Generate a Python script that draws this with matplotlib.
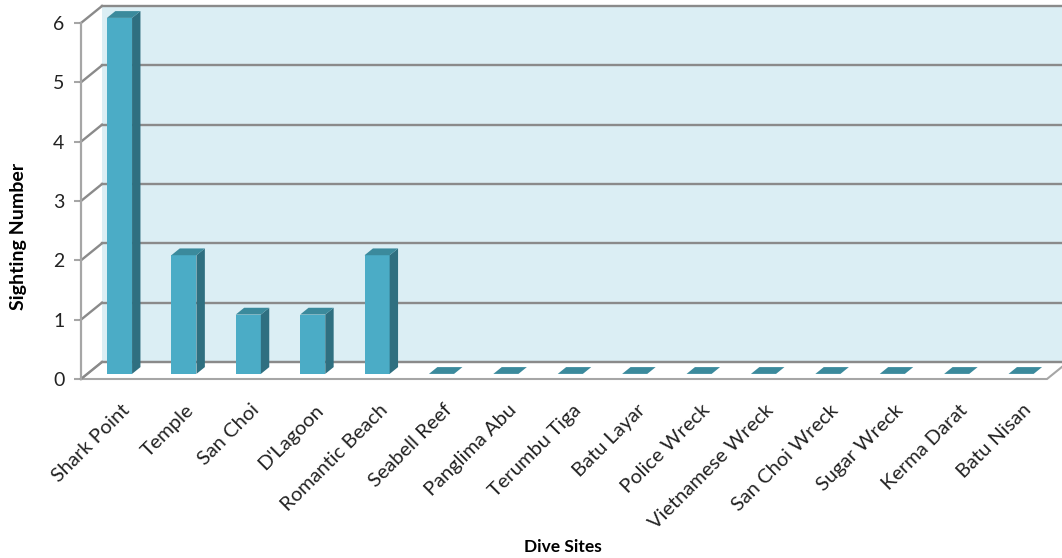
import matplotlib
matplotlib.use("Agg")
import matplotlib.pyplot as plt
from matplotlib.patches import Polygon
from matplotlib.transforms import ScaledTranslation

# Data
sites = ['Shark Point', 'Temple', 'San Choi', "D'Lagoon", 'Romantic Beach',
         'Seabell Reef', 'Panglima Abu', 'Terumbu Tiga', 'Batu Layar',
         'Police Wreck', 'Vietnamese Wreck', 'San Choi Wreck', 'Sugar Wreck',
         'Kerma Darat', 'Batu Nisan']
sightings = [6, 2, 1, 1, 2, 0, 0, 0, 0, 0, 0, 0, 0, 0, 0]
y_ticks = [0, 1, 2, 3, 4, 5, 6]

# Style
WALL = '#dbeef4'
GRID = '#8a8a8a'
EDGE = '#a6a6a6'
FRONT = '#4bacc6'
SIDE = '#2f6f80'
TOP = '#3b8a9c'
FONT = 'Lato'

W, H, DPI = 1062, 558, 100
fig = plt.figure(figsize=(W / DPI, H / DPI), dpi=DPI)
# front plane of the 3D box, in pixels
left, right, y0, y6 = 81, 1047, 379, 23
ax = fig.add_axes([left / W, 1 - y0 / H, (right - left) / W, (y0 - y6) / H])
ax.set_xlim(-0.5, len(sites) - 0.5)
ax.set_ylim(0, 6)
ax.patch.set_visible(False)
for s in ax.spines.values():
    s.set_visible(False)

# depth of the box (pixels) converted to data units
px_x = (right - left) / len(sites)
px_y = (y0 - y6) / 6
DX, DY = 21 / px_x, 17 / px_y
x0, x1 = -0.5, len(sites) - 0.5 + 1.0


def poly(pts, **kw):
    p = Polygon(pts, closed=True, clip_on=False, **kw)
    ax.add_patch(p)
    return p


# back wall, left wall, floor
poly([(x0 + DX, DY), (x1 + DX, DY), (x1 + DX, 6 + DY), (x0 + DX, 6 + DY)],
     facecolor=WALL, edgecolor='none', zorder=1)
poly([(x0, 0), (x0 + DX, DY), (x0 + DX, 6 + DY), (x0, 6)],
     facecolor='white', edgecolor='none', zorder=1)
xr = len(sites) - 0.5
poly([(x0, 0), (xr, 0), (xr + DX, DY), (x0 + DX, DY)],
     facecolor='white', edgecolor=EDGE, linewidth=1.5, zorder=2)

# gridlines on back wall and left wall
for v in y_ticks:
    ax.plot([x0 + DX, x1 + DX], [v + DY, v + DY], color=GRID, lw=1.7,
            clip_on=False, zorder=2)
    ax.plot([x0, x0 + DX], [v, v + DY], color=GRID, lw=1.7,
            clip_on=False, zorder=2)
ax.plot([x0, x0], [0, 6], color=EDGE, lw=1.6, clip_on=False, zorder=3)

# bars with depth from 0.3 to 0.7 of the box
f0, f1 = 0.3, 0.7
bw = 0.39
for i, v in enumerate(sightings):
    ox, oy = f0 * DX, f0 * DY
    bx, by = f1 * DX, f1 * DY
    xa, xb = i - bw / 2 + ox, i + bw / 2 + ox
    if v > 0:
        poly([(xa, oy), (xb, oy), (xb, v + oy), (xa, v + oy)],
             facecolor=FRONT, edgecolor='none', zorder=4)
        poly([(xb, oy), (xb - ox + bx, by), (xb - ox + bx, v + by), (xb, v + oy)],
             facecolor=SIDE, edgecolor='none', zorder=4)
    poly([(xa, v + oy), (xb, v + oy), (xb - ox + bx, v + by), (xa - ox + bx, v + by)],
         facecolor=TOP, edgecolor='none', zorder=4)

# ticks and labels
ax.set_yticks(y_ticks)
ax.set_yticklabels([str(t) for t in y_ticks], fontsize=14, family=FONT,
                   color='#222222')
ax.tick_params(axis='y', length=5, width=1.5, color=EDGE, pad=7)
ax.set_xticks(range(len(sites)))
ax.set_xticklabels(sites, rotation=45, ha='right', va='top',
                   rotation_mode='anchor', fontsize=14.5, family=FONT,
                   color='#222222')
ax.tick_params(axis='x', length=0, pad=16)
for lab in ax.get_xticklabels():
    lab.set_transform(lab.get_transform()
                      + ScaledTranslation(0.08, 0, fig.dpi_scale_trans))

fig.text(19 / W, 1 - 236 / H, 'Sighting Number', rotation=90, ha='center',
         va='center', fontsize=14, fontweight='bold', family=FONT)
fig.text(563 / W, 1 - 547 / H, 'Dive Sites', ha='center', va='center',
         fontsize=12.5, fontweight='bold', family=FONT)

fig.savefig('out.png', dpi=DPI)
